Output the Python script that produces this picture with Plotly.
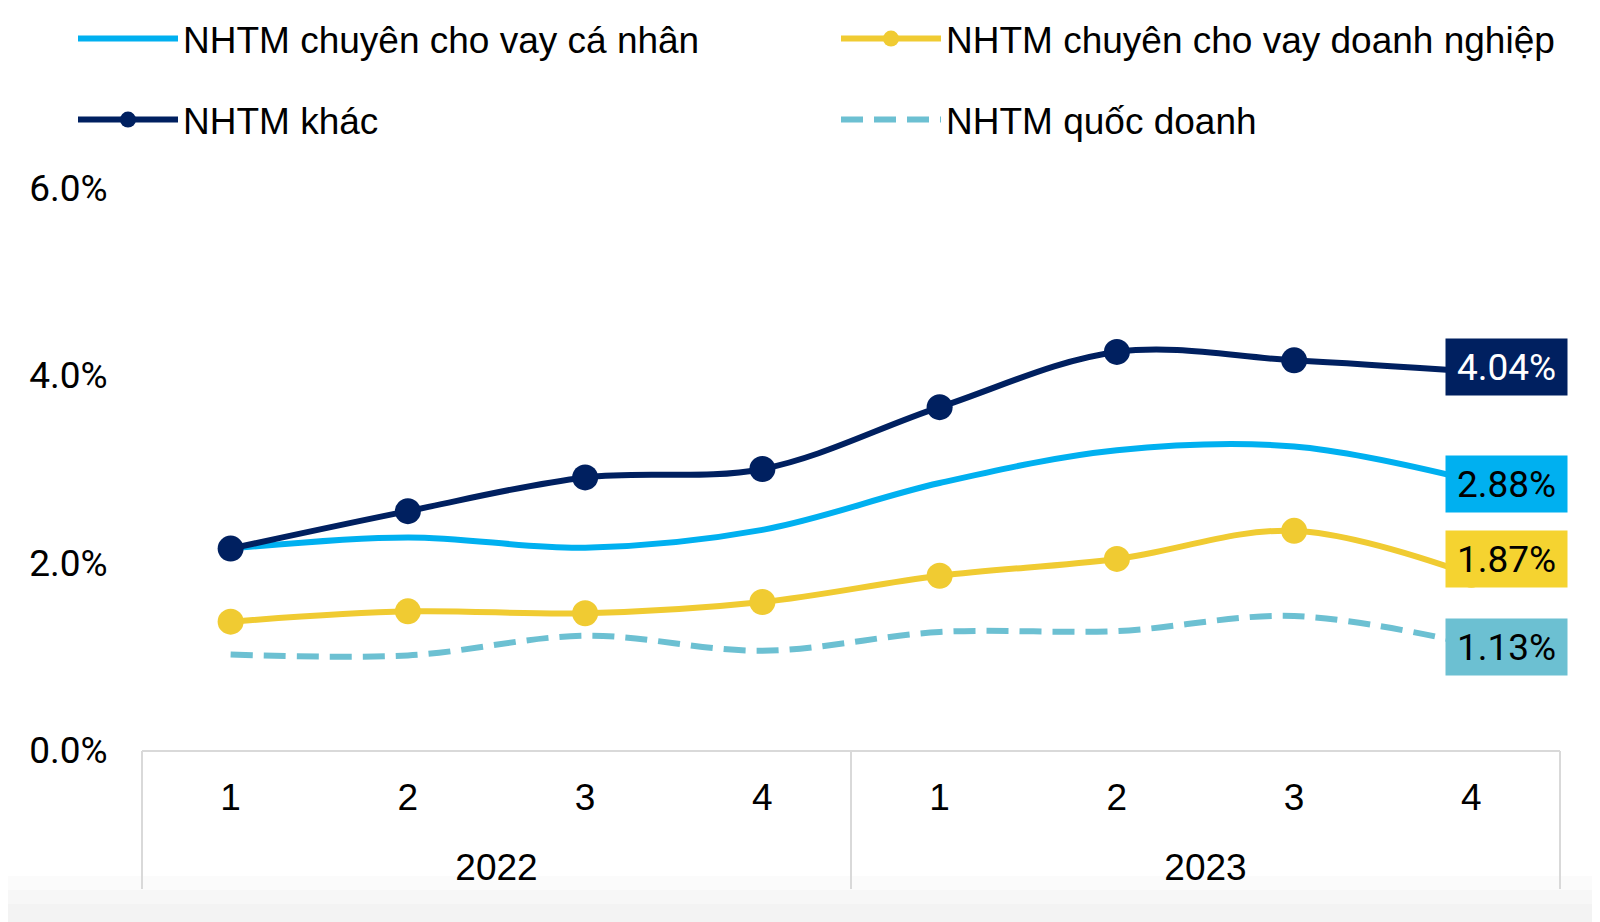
import plotly.graph_objects as go

quarters = ["1", "2", "3", "4", "1", "2", "3", "4"]
years = ["2022", "2023"]
year_centers = [1.5, 5.5]
group_bounds = [-0.5, 3.5, 7.5]

names = ["NHTM chuyên cho vay cá nhân", "NHTM chuyên cho vay doanh nghiệp",
         "NHTM khác", "NHTM quốc doanh"]
ca_nhan = [2.15, 2.27, 2.16, 2.35, 2.85, 3.20, 3.24, 2.88]
doanh_nghiep = [1.37, 1.48, 1.46, 1.58, 1.86, 2.04, 2.34, 1.87]
khac = [2.15, 2.55, 2.91, 3.00, 3.66, 4.25, 4.16, 4.04]
quoc_doanh = [1.02, 1.01, 1.22, 1.06, 1.26, 1.27, 1.43, 1.13]
y_ticks = [0, 2, 4, 6]
y_ticktext = [f"{v:.1f}%" for v in y_ticks]

C_BLUE = "#00b0f0"
C_YEL = "#f0cb32"
C_NAVY = "#002060"
C_TEAL = "#6cc0d2"

LAT = "Liberation Sans, Arial, sans-serif"
REG = "Roboto, Arial, sans-serif"

idx = list(range(len(quarters)))
fig = go.Figure()
fig.add_trace(go.Scatter(x=idx, y=ca_nhan, name=names[0], mode="lines",
                         line=dict(color=C_BLUE, width=6, shape="spline", smoothing=1),
                         legend="legend"))
fig.add_trace(go.Scatter(x=idx, y=doanh_nghiep, name=names[1], mode="lines+markers",
                         line=dict(color=C_YEL, width=6, shape="spline", smoothing=1),
                         marker=dict(size=26, color=C_YEL), legend="legend2"))
fig.add_trace(go.Scatter(x=idx, y=quoc_doanh, name=names[3], mode="lines",
                         line=dict(color=C_TEAL, width=6, shape="spline", smoothing=1,
                                   dash="22px,11px"),
                         legend="legend4"))
fig.add_trace(go.Scatter(x=idx, y=khac, name=names[2], mode="lines+markers",
                         line=dict(color=C_NAVY, width=6, shape="spline", smoothing=1),
                         marker=dict(size=26, color=C_NAVY), legend="legend3"))

# helper (empty) traces so that the year axis and divider axis are drawn
fig.add_trace(go.Scatter(x=year_centers, y=[None, None], xaxis="x2", yaxis="y",
                         showlegend=False, hoverinfo="skip", mode="lines"))
fig.add_trace(go.Scatter(x=group_bounds, y=[None, None, None], xaxis="x3", yaxis="y",
                         showlegend=False, hoverinfo="skip", mode="lines"))

labels = [
    (khac[-1], C_NAVY, "white", 5),
    (ca_nhan[-1], C_BLUE, "black", -4),
    (doanh_nghiep[-1], "#f5d330", "black", 16),
    (quoc_doanh[-1], C_TEAL, "black", -3),
]
for v, bg, fc, ys in labels:
    fig.add_annotation(x=idx[-1], y=v, xref="x", yref="y", text=f"{v:.2f}%",
                       showarrow=False, xanchor="left", yanchor="middle",
                       xshift=-26, yshift=ys, bgcolor=bg, borderpad=4,
                       width=113, height=48,
                       font=dict(family=REG, size=37, color=fc))

# subtle grey fade at the bottom edge
for y0, col in [(876, "#fbfbfb"), (890, "#f7f7f7"), (904, "#f3f3f3")]:
    fig.add_shape(type="rect", xref="paper", yref="paper", x0=-0.2, x1=1.1,
                  y0=-(y0 - 750) / 562, y1=-(940 - 750) / 562,
                  fillcolor=col, line_width=0, layer="below")

PLOT_L, PLOT_W = 142, 1418


def px_x(p):
    return (p - PLOT_L) / PLOT_W


def px_y(p):
    return (750 - p) / 562


leg_common = dict(orientation="h", xanchor="left", yanchor="middle",
                  font=dict(family=LAT, size=37, color="black"),
                  itemwidth=100, bgcolor="rgba(0,0,0,0)")

fig.update_layout(
    width=1600, height=922,
    margin=dict(l=134, r=48, t=180, b=180, autoexpand=False),
    paper_bgcolor="white", plot_bgcolor="white",
    showlegend=True,
    legend=dict(x=px_x(73), y=px_y(39), **leg_common),
    legend2=dict(x=px_x(836), y=px_y(39), **leg_common),
    legend3=dict(x=px_x(73), y=px_y(120), **leg_common),
    legend4=dict(x=px_x(836), y=px_y(120), **leg_common),
    xaxis=dict(range=[-0.5, 7.5], tickvals=idx, ticktext=quarters,
               showline=True, linecolor="#d9d9d9", linewidth=2,
               showgrid=False, zeroline=False, ticks="", ticklabelstandoff=14,
               tickfont=dict(family=LAT, size=37, color="black")),
    xaxis2=dict(overlaying="x", anchor="y", side="bottom", range=[-0.5, 7.5],
                tickvals=year_centers, ticktext=years, showline=False,
                showgrid=False, zeroline=False, ticks="", ticklabelstandoff=92,
                tickfont=dict(family=LAT, size=37, color="black")),
    xaxis3=dict(overlaying="x", anchor="y", side="bottom", range=[-0.5, 7.5],
                tickvals=group_bounds, showticklabels=False, showline=False,
                showgrid=False, zeroline=False, ticks="outside", ticklen=138,
                tickwidth=2, tickcolor="#d9d9d9"),
    yaxis=dict(range=[0, 6], tickvals=y_ticks, ticktext=y_ticktext,
               showgrid=False, zeroline=False, showline=False,
               ticks="outside", ticklen=26, tickcolor="rgba(0,0,0,0)",
               tickfont=dict(family=REG, size=37, color="black")),
)

fig.write_html("out.html")
